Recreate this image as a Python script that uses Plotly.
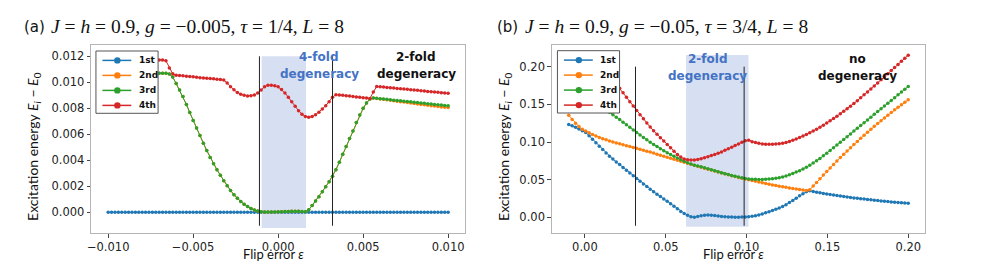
import numpy as np
import plotly.graph_objects as go

# ---------------- data ----------------
# panel (a): flip error grid and the four excitation energies
XA = np.linspace(-0.01, 0.01, 101)
E1_A = [
    0, 0, 0, 0, 0, 0, 0, 0, 0, 0, 0, 0, 0, 0, 0, 0, 0, 0, 0, 0,
    0, 0, 0, 0, 0, 0, 0, 0, 0, 0, 0, 0, 0, 0, 0, 0, 0, 0, 0, 0,
    0, 0, 0, 0, 0, 0, 0, 0, 0, 0, 0, 0, 0, 0, 0, 0, 0, 0, 0, 0,
    0, 0, 0, 0, 0, 0, 0, 0, 0, 0, 0, 0, 0, 0, 0, 0, 0, 0, 0, 0,
    0, 0, 0, 0, 0, 0, 0, 0, 0, 0, 0, 0, 0, 0, 0, 0, 0, 0, 0, 0,
    0,
]
E3_A = [
    0.01070, 0.01070, 0.01070, 0.01070, 0.01070, 0.01070, 0.01070, 0.01070, 0.01070, 0.01070,
    0.01070, 0.01070, 0.01070, 0.01070, 0.01070, 0.01070, 0.01070, 0.01070, 0.01064, 0.01040,
    0.00990, 0.00940, 0.00890, 0.00830, 0.00768, 0.00706, 0.00648, 0.00590, 0.00532, 0.00475,
    0.00422, 0.00374, 0.00328, 0.00285, 0.00243, 0.00205, 0.00168, 0.00136, 0.00108, 0.00083,
    0.00063, 0.00044, 0.00029, 0.00018, 0.00010, 0.00005, 0.00003, 0.00002, 0.00002, 0.00003,
    0.00004, 0.00005, 0.00006, 0.00007, 0.00008, 0.00009, 0.00008, 0.00006, 0.00004, 0.00020,
    0.00052, 0.00087, 0.00120, 0.00158, 0.00197, 0.00236, 0.00278, 0.00328, 0.00386, 0.00446,
    0.00507, 0.00567, 0.00626, 0.00690, 0.00748, 0.00800, 0.00840, 0.00872, 0.00880, 0.00877,
    0.00874, 0.00872, 0.00869, 0.00866, 0.00863, 0.00861, 0.00858, 0.00855, 0.00852, 0.00850,
    0.00847, 0.00844, 0.00841, 0.00839, 0.00836, 0.00833, 0.00830, 0.00828, 0.00825, 0.00822,
    0.00820,
]
E2_A = [
    0.01070, 0.01070, 0.01070, 0.01070, 0.01070, 0.01070, 0.01070, 0.01070, 0.01070, 0.01070,
    0.01070, 0.01070, 0.01070, 0.01070, 0.01070, 0.01070, 0.01070, 0.01070, 0.01064, 0.01040,
    0.00990, 0.00940, 0.00890, 0.00830, 0.00768, 0.00706, 0.00648, 0.00590, 0.00532, 0.00475,
    0.00422, 0.00374, 0.00328, 0.00285, 0.00243, 0.00205, 0.00168, 0.00136, 0.00108, 0.00083,
    0.00063, 0.00044, 0.00029, 0.00018, 0.00010, 0.00005, 0.00003, 0.00002, 0.00002, 0.00003,
    0.00004, 0.00005, 0.00006, 0.00007, 0.00008, 0.00009, 0.00008, 0.00006, 0.00004, 0.00020,
    0.00052, 0.00087, 0.00120, 0.00158, 0.00197, 0.00236, 0.00278, 0.00328, 0.00386, 0.00446,
    0.00507, 0.00567, 0.00626, 0.00690, 0.00748, 0.00800, 0.00840, 0.00872, 0.00880, 0.00876,
    0.00872, 0.00869, 0.00865, 0.00862, 0.00858, 0.00855, 0.00851, 0.00848, 0.00844, 0.00841,
    0.00837, 0.00834, 0.00830, 0.00827, 0.00823, 0.00820, 0.00817, 0.00814, 0.00811, 0.00809,
    0.00807,
]
E4_A = [
    0.01172, 0.01172, 0.01172, 0.01172, 0.01172, 0.01172, 0.01172, 0.01172, 0.01172, 0.01172,
    0.01172, 0.01172, 0.01172, 0.01172, 0.01172, 0.01172, 0.01172, 0.01165, 0.01110, 0.01065,
    0.01055, 0.01052, 0.01050, 0.01047, 0.01044, 0.01042, 0.01039, 0.01036, 0.01034, 0.01032,
    0.01030, 0.01027, 0.01024, 0.01021, 0.01017, 0.00995, 0.00965, 0.00942, 0.00922, 0.00908,
    0.00900, 0.00895, 0.00896, 0.00902, 0.00918, 0.00940, 0.00965, 0.00978, 0.00978, 0.00974,
    0.00965, 0.00945, 0.00918, 0.00885, 0.00850, 0.00815, 0.00782, 0.00755, 0.00737, 0.00731,
    0.00737, 0.00750, 0.00770, 0.00795, 0.00820, 0.00850, 0.00885, 0.00905, 0.00903, 0.00900,
    0.00897, 0.00894, 0.00891, 0.00888, 0.00885, 0.00882, 0.00879, 0.00876, 0.00925, 0.00968,
    0.00966, 0.00963, 0.00961, 0.00958, 0.00956, 0.00953, 0.00951, 0.00948, 0.00946, 0.00943,
    0.00941, 0.00938, 0.00935, 0.00933, 0.00930, 0.00928, 0.00925, 0.00923, 0.00920, 0.00918,
    0.00915,
]

# panel (b)
XB = np.linspace(-0.01, 0.2, 101)
E1_B = [
    0.1233, 0.1215, 0.1195, 0.1172, 0.1150, 0.1127, 0.1083, 0.1037, 0.0991, 0.0945,
    0.0899, 0.0853, 0.0812, 0.0773, 0.0736, 0.0700, 0.0663, 0.0626, 0.0589, 0.0552,
    0.0515, 0.0479, 0.0443, 0.0408, 0.0373, 0.0340, 0.0308, 0.0276, 0.0245, 0.0213,
    0.0181, 0.0148, 0.0114, 0.0078, 0.0050, 0.0027, 0.0008, 0.0002, 0.0012, 0.0022,
    0.0027, 0.0030, 0.0029, 0.0024, 0.0018, 0.0012, 0.0008, 0.0005, 0.0003, 0.0002,
    0.0002, 0.0003, 0.0004, 0.0008, 0.0014, 0.0021, 0.0032, 0.0045, 0.0060, 0.0075,
    0.0091, 0.0107, 0.0124, 0.0143, 0.0168, 0.0196, 0.0224, 0.0255, 0.0285, 0.0314,
    0.0340, 0.0352, 0.0343, 0.0334, 0.0325, 0.0317, 0.0310, 0.0303, 0.0296, 0.0289,
    0.0282, 0.0276, 0.0270, 0.0264, 0.0258, 0.0252, 0.0247, 0.0242, 0.0237, 0.0232,
    0.0227, 0.0222, 0.0217, 0.0213, 0.0209, 0.0205, 0.0201, 0.0197, 0.0193, 0.0189,
    0.0186,
]
E2_B = [
    0.1355, 0.1300, 0.1248, 0.1205, 0.1168, 0.1145, 0.1122, 0.1100, 0.1080, 0.1061,
    0.1044, 0.1029, 0.1015, 0.1001, 0.0988, 0.0976, 0.0964, 0.0952, 0.0940, 0.0928,
    0.0916, 0.0904, 0.0892, 0.0879, 0.0866, 0.0853, 0.0839, 0.0825, 0.0811, 0.0797,
    0.0783, 0.0770, 0.0757, 0.0744, 0.0731, 0.0718, 0.0705, 0.0692, 0.0679, 0.0666,
    0.0653, 0.0640, 0.0627, 0.0614, 0.0601, 0.0589, 0.0577, 0.0565, 0.0553, 0.0541,
    0.0530, 0.0519, 0.0509, 0.0499, 0.0489, 0.0479, 0.0469, 0.0459, 0.0449, 0.0439,
    0.0430, 0.0421, 0.0413, 0.0405, 0.0398, 0.0391, 0.0384, 0.0377, 0.0370, 0.0363,
    0.0357, 0.0365, 0.0415, 0.0464, 0.0513, 0.0561, 0.0609, 0.0656, 0.0702, 0.0748,
    0.0793, 0.0837, 0.0881, 0.0924, 0.0966, 0.1008, 0.1049, 0.1090, 0.1130, 0.1169,
    0.1208, 0.1246, 0.1283, 0.1320, 0.1356, 0.1392, 0.1427, 0.1461, 0.1495, 0.1528,
    0.1560,
]
E3_B = [
    0.1800, 0.1766, 0.1732, 0.1698, 0.1664, 0.1630, 0.1596, 0.1562, 0.1528, 0.1494,
    0.1460, 0.1427, 0.1394, 0.1362, 0.1330, 0.1298, 0.1264, 0.1229, 0.1195, 0.1161,
    0.1127, 0.1094, 0.1061, 0.1029, 0.0998, 0.0968, 0.0940, 0.0912, 0.0885, 0.0859,
    0.0834, 0.0810, 0.0787, 0.0765, 0.0744, 0.0725, 0.0707, 0.0692, 0.0683, 0.0671,
    0.0659, 0.0646, 0.0633, 0.0619, 0.0606, 0.0593, 0.0580, 0.0568, 0.0556, 0.0545,
    0.0534, 0.0524, 0.0516, 0.0510, 0.0506, 0.0504, 0.0503, 0.0503, 0.0505, 0.0508,
    0.0512, 0.0518, 0.0526, 0.0536, 0.0548, 0.0564, 0.0582, 0.0601, 0.0620, 0.0642,
    0.0666, 0.0692, 0.0720, 0.0750, 0.0782, 0.0816, 0.0851, 0.0887, 0.0923, 0.0960,
    0.0997, 0.1034, 0.1071, 0.1108, 0.1145, 0.1182, 0.1219, 0.1256, 0.1293, 0.1330,
    0.1367, 0.1404, 0.1441, 0.1478, 0.1515, 0.1552, 0.1589, 0.1626, 0.1663, 0.1700,
    0.1737,
]
E4_B = [
    0.2154, 0.2152, 0.2146, 0.2136, 0.2123, 0.2105, 0.2083, 0.2058, 0.2029, 0.1995,
    0.1958, 0.1917, 0.1872, 0.1823, 0.1770, 0.1713, 0.1654, 0.1595, 0.1536, 0.1477,
    0.1419, 0.1363, 0.1308, 0.1253, 0.1198, 0.1150, 0.1104, 0.1058, 0.1013, 0.0968,
    0.0923, 0.0878, 0.0835, 0.0800, 0.0776, 0.0764, 0.0760, 0.0761, 0.0768, 0.0779,
    0.0792, 0.0806, 0.0820, 0.0835, 0.0851, 0.0869, 0.0889, 0.0910, 0.0931, 0.0953,
    0.0975, 0.0997, 0.1018, 0.1025, 0.1005, 0.0992, 0.0982, 0.0975, 0.0971, 0.0969,
    0.0970, 0.0973, 0.0978, 0.0983, 0.0994, 0.1007, 0.1022, 0.1040, 0.1059, 0.1079,
    0.1100, 0.1122, 0.1146, 0.1171, 0.1197, 0.1224, 0.1252, 0.1281, 0.1311, 0.1342,
    0.1374, 0.1407, 0.1441, 0.1476, 0.1512, 0.1549, 0.1587, 0.1626, 0.1665, 0.1705,
    0.1745, 0.1785, 0.1825, 0.1866, 0.1907, 0.1948, 0.1989, 0.2030, 0.2071, 0.2112,
    0.2153,
]

SERIES_NAMES = ["1st", "2nd", "3rd", "4th"]
# marked regions: shaded degeneracy window and the two boundary lines
SHADE_A = [-0.00097, 0.00164]
VLINES_A = [-0.0011, 0.0032]
SHADE_B = [0.0626, 0.1012]
VLINES_B = [0.0313, 0.0985]

# ---------------- styling ----------------
COLORS = ["#1f77b4", "#ff7f0e", "#2ca02c", "#d62728"]
PAGE_W, PAGE_H = 981, 273
OFF = 8                      # default page body margin around the figure div
W, H = PAGE_W - 2 * OFF, PAGE_H - 2 * OFF
TOP, BOT = 45, 233           # plot area, page pixels
MT, MB = TOP - OFF, H - (BOT - OFF)
PLOT_H = BOT - TOP
BLUE_TXT = "#4472c4"
SHADE_COL = "#d6e0f2"


def px(x):
    """page x pixel -> paper fraction"""
    return (x - OFF) / W


def py(y):
    """page y pixel -> paper fraction"""
    return (BOT - y) / PLOT_H


fig = go.Figure()

panels = [
    (XA, [E1_A, E2_A, E3_A, E4_A], "x", "y"),
    (XB, [E1_B, E2_B, E3_B, E4_B], "x2", "y2"),
]
for xs, ys_list, xa, ya in panels:
    for name, ys, col in zip(SERIES_NAMES, ys_list, COLORS):
        assert len(ys) == len(xs)
        fig.add_trace(go.Scatter(
            x=xs, y=ys, mode="lines+markers", name=name,
            line=dict(color=col, width=1),
            marker=dict(color=col, size=3.5),
            xaxis=xa, yaxis=ya, showlegend=False,
        ))

axis_common = dict(
    showline=True, mirror=True, linecolor="#b5b5b5", linewidth=1,
    ticks="outside", ticklen=3.5, tickwidth=1, tickcolor="#444",
    showgrid=False, zeroline=False,
    tickfont=dict(family="DejaVu Sans", size=11.5, color="#222"),
)

fig.update_layout(
    width=W, height=H,
    margin=dict(l=0, r=0, t=MT, b=MB),
    paper_bgcolor="white", plot_bgcolor="white",
    showlegend=False,
    xaxis=dict(domain=[px(87.5), px(463)], range=[-0.011, 0.011],
               tickvals=[-0.01, -0.005, 0, 0.005, 0.01], tickformat=".3f",
               anchor="y", **axis_common),
    yaxis=dict(domain=[0, 1], range=[-0.00159, 0.01287],
               tickvals=[0, 0.002, 0.004, 0.006, 0.008, 0.01, 0.012],
               tickformat=".3f", anchor="x", **axis_common),
    xaxis2=dict(domain=[px(550), px(925)], range=[-0.0205, 0.2105],
                tickvals=[0, 0.05, 0.1, 0.15, 0.2], tickformat=".2f",
                anchor="y2", **axis_common),
    yaxis2=dict(domain=[0, 1], range=[-0.0208, 0.2288],
                tickvals=[0, 0.05, 0.1, 0.15, 0.2], tickformat=".2f",
                anchor="x2", **axis_common),
)

shapes = []
# shaded windows
shapes.append(dict(type="rect", xref="x", yref="y", x0=SHADE_A[0], x1=SHADE_A[1],
                   y0=-0.0012, y1=0.012, fillcolor=SHADE_COL, line=dict(width=0), layer="below"))
shapes.append(dict(type="rect", xref="x2", yref="y2", x0=SHADE_B[0], x1=SHADE_B[1],
                   y0=-0.0125, y1=0.2155, fillcolor=SHADE_COL, line=dict(width=0), layer="below"))
for v in VLINES_A:
    shapes.append(dict(type="line", xref="x", yref="y", x0=v, x1=v, y0=-0.00103, y1=0.012,
                       line=dict(color="#222", width=1), layer="above"))
for v in VLINES_B:
    shapes.append(dict(type="line", xref="x2", yref="y2", x0=v, x1=v, y0=-0.0112, y1=0.2,
                       line=dict(color="#222", width=1), layer="above"))

annotations = []


def add_legend(left, top):
    wbox, hbox = 62.4, 62.3
    shapes.append(dict(type="rect", xref="paper", yref="paper",
                       x0=px(left), x1=px(left + wbox), y0=py(top + hbox), y1=py(top),
                       fillcolor="white", line=dict(color="#555", width=1), layer="above"))
    for k, (name, col) in enumerate(zip(SERIES_NAMES, COLORS)):
        yy = top + 9.4 + 15 * k
        shapes.append(dict(type="line", xref="paper", yref="paper",
                           x0=px(left + 6.5), x1=px(left + 35.5), y0=py(yy), y1=py(yy),
                           line=dict(color=col, width=1.5), layer="above"))
        r = 3.2
        shapes.append(dict(type="circle", xref="paper", yref="paper",
                           x0=px(left + 21.5 - r), x1=px(left + 21.5 + r),
                           y0=py(yy + r), y1=py(yy - r),
                           fillcolor=col, line=dict(color=col, width=0), layer="above"))
        annotations.append(dict(xref="paper", yref="paper", x=px(left + 41), y=py(yy),
                                text=name, showarrow=False,
                                xanchor="left", yanchor="middle",
                                font=dict(family="DejaVu Sans", size=9, weight="bold",
                                          color="#111")))


add_legend(92.3, 51)
add_legend(555.7, 50.7)


def label2(cx, y1, y2, l1, l2, color):
    for yy, t in ((y1, l1), (y2, l2)):
        annotations.append(dict(xref="paper", yref="paper", x=px(cx), y=py(yy),
                                text=t, showarrow=False,
                                xanchor="center", yanchor="middle",
                                font=dict(family="DejaVu Sans", size=12, weight="bold",
                                          color=color)))


label2(316.7, 56.7, 74, "4-fold", "degeneracy", BLUE_TXT)
label2(414, 56.7, 74, "2-fold", "degeneracy", "#111")
label2(706.7, 59, 75.7, "2-fold", "degeneracy", BLUE_TXT)
label2(856.7, 59, 75.7, "no", "degeneracy", "#111")

# panel titles: tag in sans, parameters in a serif math-like face
titles = [
    (18, 45, "(a)", "<i>J</i> = <i>h</i> = 0.9, <i>g</i> = −0.005, <i>τ</i> = 1/4, <i>L</i> = 8"),
    (493, 521.5, "(b)", "<i>J</i> = <i>h</i> = 0.9, <i>g</i> = −0.05, <i>τ</i> = 3/4, <i>L</i> = 8"),
]
for x0, x1, tag, math in titles:
    annotations.append(dict(xref="paper", yref="paper", x=px(x0), y=py(26.7), text=tag,
                            showarrow=False, xanchor="left", yanchor="middle",
                            font=dict(family="DejaVu Sans", size=15, color="#111")))
    annotations.append(dict(xref="paper", yref="paper", x=px(x1), y=py(26.2), text=math,
                            showarrow=False, xanchor="left", yanchor="middle",
                            font=dict(family="Liberation Serif", size=19.5, color="#111")))

YLAB = "Excitation energy <i>E<sub>i</sub></i> − <i>E</i><sub>0</sub>"
for x0 in (29, 502):
    annotations.append(dict(xref="paper", yref="paper", x=px(x0), y=py(146), text=YLAB,
                            showarrow=False, textangle=-90, xanchor="center", yanchor="middle",
                            font=dict(family="Lato", size=14, color="#111")))
for cx in (271, 733):
    annotations.append(dict(xref="paper", yref="paper", x=px(cx), y=py(254),
                            text="Flip error <i>ε</i>",
                            showarrow=False, xanchor="center", yanchor="middle",
                            font=dict(family="Lato", size=13, color="#111")))

fig.update_layout(shapes=shapes, annotations=annotations)
fig.write_html("out.html")
